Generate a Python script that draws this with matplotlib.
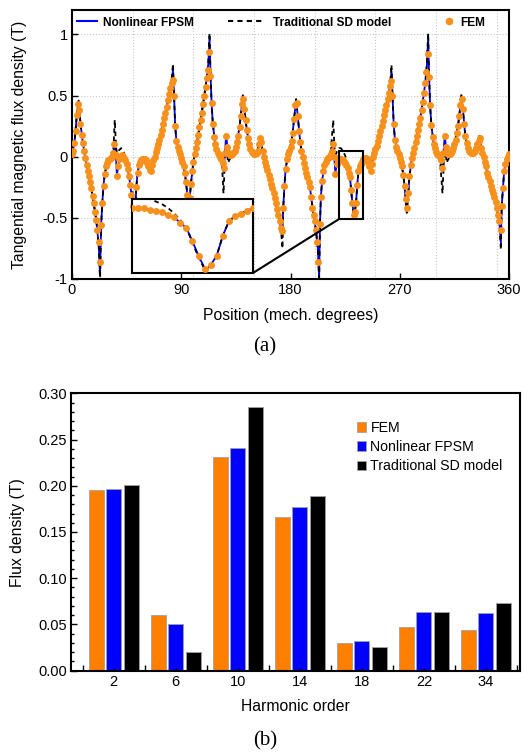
import numpy as np
import matplotlib.pyplot as plt
from matplotlib.patches import Rectangle, ConnectionPatch
from matplotlib.lines import Line2D

plt.rcParams['font.family'] = ['Liberation Sans', 'DejaVu Sans']
plt.rcParams['axes.unicode_minus'] = False

# (a) tangential flux density, FEM samples every degree
fem_pos = np.arange(0, 361)
fem_b = [0.02, 0.05, 0.11, 0.21, 0.34, 0.43, 0.38, 0.27, 0.18, 0.11,
         0.05, -0.01, -0.07, -0.12, -0.16, -0.21, -0.26, -0.32, -0.38, -0.45,
         -0.52, -0.60, -0.70, -0.86, -0.56, -0.38, -0.24, -0.14, -0.08, -0.05,
         -0.03, -0.02, -0.01, 0.00, 0.03, 0.10, 0.01, -0.16, -0.08, -0.02,
         0.00, 0.01, 0.00, -0.01, -0.03, -0.06, -0.10, -0.16, -0.23, -0.31,
         -0.40, -0.47, -0.42, -0.25, -0.13, -0.07, -0.04, -0.03, -0.02, -0.02,
         -0.02, -0.03, -0.05, -0.08, -0.11, -0.12, -0.07, -0.03, 0.00, 0.04,
         0.07, 0.10, 0.14, 0.18, 0.22, 0.27, 0.32, 0.36, 0.41, 0.46,
         0.51, 0.56, 0.60, 0.63, 0.50, 0.25, 0.13, 0.08, 0.05, 0.02,
         -0.01, -0.04, -0.08, -0.13, -0.21, -0.31, -0.43, -0.34, -0.22, -0.12,
         -0.04, 0.02, 0.07, 0.12, 0.18, 0.24, 0.30, 0.36, 0.43, 0.50,
         0.57, 0.64, 0.71, 0.86, 0.66, 0.44, 0.27, 0.16, 0.10, 0.06,
         0.03, 0.01, 0.00, -0.02, -0.05, -0.09, 0.03, 0.17, 0.08, 0.03,
         0.01, 0.01, 0.02, 0.03, 0.05, 0.08, 0.12, 0.17, 0.24, 0.33,
         0.43, 0.47, 0.39, 0.30, 0.22, 0.15, 0.10, 0.06, 0.04, 0.03,
         0.02, 0.02, 0.03, 0.05, 0.10, 0.15, 0.12, 0.05, 0.00, -0.04,
         -0.08, -0.11, -0.15, -0.18, -0.22, -0.26, -0.30, -0.34, -0.38, -0.43,
         -0.48, -0.53, -0.58, -0.61, -0.42, -0.24, -0.10, -0.02, 0.02, 0.05,
         0.08, 0.13, 0.19, 0.31, 0.42, 0.44, 0.33, 0.21, 0.12, 0.05,
         0.00, -0.05, -0.09, -0.13, -0.17, -0.21, -0.25, -0.33, -0.42, -0.48,
         -0.53, -0.60, -0.70, -0.86, -0.55, -0.33, -0.20, -0.12, -0.07, -0.04,
         -0.02, -0.01, 0.00, 0.02, 0.05, 0.10, 0.00, -0.14, -0.06, -0.01,
         -0.02, -0.02, -0.02, -0.03, -0.04, -0.05, -0.07, -0.09, -0.13, -0.17,
         -0.27, -0.38, -0.48, -0.45, -0.38, -0.23, -0.12, -0.08, -0.06, -0.04,
         -0.02, -0.01, -0.01, -0.02, -0.04, -0.08, -0.12, -0.06, 0.00, 0.03,
         0.06, 0.09, 0.13, 0.17, 0.21, 0.25, 0.29, 0.34, 0.38, 0.42,
         0.47, 0.52, 0.58, 0.62, 0.50, 0.27, 0.14, 0.08, 0.05, 0.02,
         -0.01, -0.04, -0.08, -0.15, -0.24, -0.35, -0.42, -0.30, -0.16, -0.07,
         -0.01, 0.03, 0.07, 0.12, 0.17, 0.22, 0.27, 0.32, 0.38, 0.45,
         0.52, 0.60, 0.69, 0.84, 0.65, 0.42, 0.26, 0.16, 0.10, 0.07,
         0.04, 0.02, 0.01, 0.00, -0.03, -0.09, 0.03, 0.17, 0.08, 0.04,
         0.02, 0.02, 0.03, 0.05, 0.07, 0.10, 0.14, 0.19, 0.25, 0.33,
         0.42, 0.47, 0.39, 0.27, 0.17, 0.11, 0.07, 0.05, 0.04, 0.03,
         0.03, 0.04, 0.05, 0.07, 0.10, 0.13, 0.15, 0.07, 0.03, 0.00,
         -0.04, -0.08, -0.13, -0.17, -0.20, -0.24, -0.27, -0.30, -0.33, -0.37,
         -0.42, -0.48, -0.53, -0.60, -0.40, -0.26, -0.12, -0.06, -0.02, 0.00,
         0.02]

# nonlinear FPSM curve (read points)
fpsm_pos = [0, 2, 4, 5.4, 7, 9, 11, 14, 17, 20, 22, 23.1, 24, 25, 26, 27, 29, 32, 34, 35.2,
            36.2, 37, 38, 40, 42, 44, 46, 48, 50, 51.4, 52.3, 53, 54, 56, 60, 63, 65, 66, 68, 72,
            76, 80, 82, 83.2, 84, 85, 86, 88, 91, 93, 95, 96.2, 97, 98, 100, 104, 108, 111, 112.3, 113.3,
            114.2, 115, 116, 118, 120, 122, 123, 124.8, 126, 127, 128, 130, 132, 135, 138, 140, 140.8, 142, 144, 146,
            149, 152, 154, 155.2, 157, 160, 165, 170, 172, 173.2, 174, 175, 176, 178, 181, 183, 184.6, 186, 188, 190,
            193, 196, 199, 201, 202.5, 203.6, 204.3, 205, 206, 208, 211, 213, 215.1, 216, 217, 218, 219, 220, 221, 222,
            223, 224, 225, 226, 227, 228, 229, 230, 231, 232.2, 233, 234, 235, 236, 237, 238, 239, 240, 242, 244,
            246, 247, 248, 252, 256, 260, 262, 263.2, 264, 265, 266, 268, 271, 273, 275, 275.8, 277, 278, 280, 284,
            288, 291, 292.3, 293.4, 294.2, 295, 296, 298, 300, 303, 305, 306, 307.1, 308, 310, 312, 315, 318, 320, 320.8,
            322, 324, 326, 330, 333, 335.5, 337, 339, 342, 346, 350, 352, 353.3, 354, 355, 356, 358, 360]
fpsm_b = [0.02, 0.11, 0.34, 0.46, 0.27, 0.11, -0.01, -0.16, -0.32, -0.52, -0.72, -0.97, -0.56, -0.37, -0.23, -0.14, -0.05, -0.01, 0.03, 0.13,
          0.00, -0.15, -0.08, 0.00, 0.00, -0.03, -0.10, -0.23, -0.40, -0.49, -0.40, -0.25, -0.13, -0.04, -0.02, -0.08, -0.12, -0.07, 0.00, 0.14,
          0.32, 0.51, 0.61, 0.71, 0.52, 0.25, 0.13, 0.05, -0.04, -0.13, -0.31, -0.45, -0.34, -0.22, -0.04, 0.18, 0.43, 0.64, 0.76, 0.97,
          0.64, 0.44, 0.27, 0.10, 0.03, 0.00, -0.02, -0.12, 0.03, 0.18, 0.08, 0.01, 0.02, 0.08, 0.24, 0.43, 0.50, 0.39, 0.22, 0.10,
          0.03, 0.03, 0.10, 0.16, 0.05, -0.08, -0.26, -0.48, -0.58, -0.66, -0.42, -0.24, -0.10, 0.02, 0.13, 0.31, 0.47, 0.33, 0.12, 0.00,
          -0.13, -0.25, -0.48, -0.60, -0.75, -0.97, -0.55, -0.33, -0.20, -0.07, -0.01, 0.02, 0.13, 0.00, -0.14, -0.06, -0.01, -0.02, -0.02, -0.02,
          -0.03, -0.04, -0.05, -0.07, -0.09, -0.13, -0.17, -0.27, -0.38, -0.49, -0.45, -0.38, -0.23, -0.12, -0.08, -0.06, -0.04, -0.02, -0.01, -0.04,
          -0.12, -0.06, 0.00, 0.13, 0.29, 0.47, 0.58, 0.70, 0.50, 0.27, 0.14, 0.05, -0.04, -0.15, -0.35, -0.45, -0.30, -0.16, -0.01, 0.17,
          0.38, 0.60, 0.74, 0.97, 0.65, 0.42, 0.26, 0.10, 0.04, 0.00, -0.12, 0.03, 0.18, 0.08, 0.02, 0.03, 0.10, 0.25, 0.42, 0.50,
          0.39, 0.17, 0.07, 0.03, 0.07, 0.16, 0.07, 0.00, -0.13, -0.27, -0.42, -0.53, -0.70, -0.40, -0.26, -0.12, -0.02, 0.02]

# traditional SD model curve (read points)
sd_pos = [0, 2, 4, 5.4, 7, 9, 11, 14, 17, 20, 22, 23.1, 24, 25, 26, 27, 29, 32, 34, 35.2,
          36.3, 37, 38.5, 40.5, 42.5, 44, 46, 47, 48, 50, 51.4, 52.3, 53, 54, 56, 60, 63, 65, 66, 68,
          72, 76, 80, 82, 83.2, 84, 85, 86, 88, 91, 93, 95, 96.2, 97, 98, 100, 104, 108, 111, 112.3,
          113.3, 114.2, 115, 116, 118, 120, 122, 123.5, 124.8, 126, 127.2, 128.5, 130, 132, 135, 138, 140, 140.8, 142, 144,
          146, 149, 152, 154, 155.2, 157, 160, 165, 170, 172, 173.4, 174, 175, 176, 178, 181, 183, 184.6, 186, 188,
          190, 193, 196, 199, 201, 202.5, 203.6, 204.3, 205, 206, 208, 211, 213, 215.2, 216.3, 217.3, 218.5, 220, 221.5, 223,
          224, 225, 226, 227, 228, 229, 230, 231, 232.2, 233, 234, 235, 236, 237, 238, 239, 240, 242, 244, 246,
          247, 248, 252, 256, 260, 262, 263.2, 264, 265, 266, 268, 271, 273, 275, 275.8, 277, 278, 280, 284, 288,
          291, 292.3, 293.4, 294.2, 295, 296, 298, 300, 303, 305.2, 306.4, 307.3, 308.6, 310, 312, 315, 318, 320, 320.8, 322,
          324, 326, 330, 333, 335.5, 337, 339, 342, 346, 350, 352, 353.3, 354, 355, 356, 358, 360]
sd_b = [0.02, 0.11, 0.34, 0.47, 0.27, 0.11, -0.01, -0.16, -0.32, -0.52, -0.72, -1.02, -0.56, -0.37, -0.23, -0.14, -0.05, -0.01, 0.03, 0.30,
        0.08, 0.03, 0.05, 0.07, 0.04, -0.01, -0.05, -0.09, -0.15, -0.30, -0.49, -0.40, -0.25, -0.13, -0.04, -0.02, -0.08, -0.12, -0.07, 0.00,
        0.14, 0.32, 0.51, 0.62, 0.76, 0.52, 0.25, 0.13, 0.05, -0.04, -0.13, -0.31, -0.46, -0.34, -0.22, -0.04, 0.18, 0.43, 0.64, 0.78,
        1.01, 0.64, 0.44, 0.27, 0.10, 0.03, 0.00, -0.05, -0.30, -0.02, 0.10, -0.05, -0.02, 0.01, 0.08, 0.24, 0.43, 0.51, 0.39, 0.22,
        0.10, 0.03, 0.03, 0.10, 0.17, 0.05, -0.08, -0.26, -0.48, -0.58, -0.75, -0.42, -0.24, -0.10, 0.02, 0.13, 0.31, 0.47, 0.33, 0.12,
        0.00, -0.13, -0.25, -0.48, -0.60, -0.76, -1.02, -0.55, -0.33, -0.20, -0.07, -0.01, 0.02, 0.30, 0.06, 0.02, 0.05, 0.07, 0.07, 0.05,
        0.03, 0.01, -0.02, -0.06, -0.11, -0.17, -0.28, -0.39, -0.50, -0.45, -0.38, -0.23, -0.12, -0.08, -0.06, -0.04, -0.02, -0.01, -0.04, -0.12,
        -0.06, 0.00, 0.13, 0.29, 0.47, 0.58, 0.75, 0.50, 0.27, 0.14, 0.05, -0.04, -0.15, -0.35, -0.46, -0.30, -0.16, -0.01, 0.17, 0.38,
        0.60, 0.76, 1.01, 0.65, 0.42, 0.26, 0.10, 0.04, 0.00, -0.30, -0.02, 0.10, -0.05, -0.02, 0.01, 0.10, 0.25, 0.42, 0.51, 0.39,
        0.17, 0.07, 0.03, 0.07, 0.17, 0.07, 0.00, -0.13, -0.27, -0.42, -0.53, -0.76, -0.40, -0.26, -0.12, -0.02, 0.02]

# (b) harmonic amplitudes
harm_order = ['2', '6', '10', '14', '18', '22', '34']
harm_fem = [0.195, 0.060, 0.231, 0.166, 0.030, 0.047, 0.044]
harm_fpsm = [0.196, 0.051, 0.241, 0.177, 0.032, 0.064, 0.062]
harm_sd = [0.201, 0.020, 0.285, 0.189, 0.026, 0.064, 0.073]

orange = '#FF8000'
dot_orange = '#F8901C'
blue = '#0000FF'
zoom_x = (220, 240)
zoom_y = (-0.51, 0.05)

fig = plt.figure(figsize=(5.29, 7.56), dpi=100)

# ---------------- (a) ----------------
ax = fig.add_axes([0.1361, 0.6310, 0.8261, 0.3558])
for gx in range(50, 360, 50):
    ax.axvline(gx, color='#c8c8c8', ls=':', lw=0.8, zorder=0)
for gy in [-0.5, 0, 0.5, 1]:
    ax.axhline(gy, color='#c8c8c8', ls=':', lw=0.8, zorder=0)


def draw_wave(a, ms):
    a.plot(fpsm_pos, fpsm_b, color=blue, lw=1.3, zorder=2)
    a.plot(sd_pos, sd_b, color='black', lw=1.3, ls=(0, (2.5, 2)), zorder=3)
    a.plot(fem_pos, fem_b, 'o', color=dot_orange, ms=ms, mec='none', zorder=4)


draw_wave(ax, 5.0)
ax.set_xlim(0, 360)
ax.set_ylim(-1, 1.2)
ax.set_xticks([0, 90, 180, 270, 360])
ax.set_yticks([-1, -0.5, 0, 0.5, 1])
ax.set_yticklabels(['-1', '-0.5', '0', '0.5', '1'])
ax.tick_params(direction='in', length=4, width=1, labelsize=10.5, pad=3)
for s in ax.spines.values():
    s.set_linewidth(1.5)

ax.add_patch(Rectangle((zoom_x[0], zoom_y[0]), zoom_x[1] - zoom_x[0], zoom_y[1] - zoom_y[0],
                       fill=False, ec='black', lw=1.5, zorder=6))

bold = dict(weight='bold', size=8.6)
h1 = Line2D([], [], color=blue, lw=1.5)
h2 = Line2D([], [], color='black', lw=1.5, ls=(0, (2.5, 2)))
h3 = Line2D([], [], ls='none', marker='o', color=dot_orange, ms=5.5, mec='none')
leg1 = ax.legend([h1], ['Nonlinear FPSM'], loc='center left', bbox_to_anchor=(0.011, 0.953),
                 frameon=False, borderpad=0, borderaxespad=0, handlelength=1.67,
                 handletextpad=0.5, prop=bold)
ax.add_artist(leg1)
leg2 = ax.legend([h2], ['Traditional SD model'], loc='center left', bbox_to_anchor=(0.357, 0.953),
                 frameon=False, borderpad=0, borderaxespad=0, handlelength=3.1,
                 handletextpad=0.65, prop=bold)
ax.add_artist(leg2)
ax.legend([h3], ['FEM'], loc='center left', bbox_to_anchor=(0.849, 0.953),
          frameon=False, borderpad=0, borderaxespad=0, handlelength=1.0,
          handletextpad=0.42, prop=bold)

# inset
axins = fig.add_axes([0.2495, 0.6389, 0.2287, 0.0979])
draw_wave(axins, 5.0)
axins.set_xlim(*zoom_x)
axins.set_ylim(*zoom_y)
axins.set_xticks([])
axins.set_yticks([])
for s in axins.spines.values():
    s.set_linewidth(1.5)
con = ConnectionPatch(xyA=(1, 0), coordsA=axins.transAxes,
                      xyB=(zoom_x[0], zoom_y[0]), coordsB=ax.transData,
                      color='black', lw=1.5)
fig.add_artist(con)

fig.text(0.549, 0.583, 'Position (mech. degrees)', ha='center', va='center', fontsize=11.3)
fig.text(0.036, 0.809, 'Tangential magnetic flux density (T)', ha='center', va='center',
         rotation=90, fontsize=11.3)
fig.text(0.501, 0.541, '(a)', ha='center', va='center', fontsize=15, family='Liberation Serif')

# ---------------- (b) ----------------
ax2 = fig.add_axes([0.1342, 0.1128, 0.8488, 0.3670])
idx = np.arange(len(harm_order))
w = 0.245
off = 0.285
ax2.bar(idx - off, harm_fem, w, color=orange, edgecolor='#a0a0a0', lw=0.6, label='FEM')
ax2.bar(idx, harm_fpsm, w, color=blue, edgecolor='#a0a0a0', lw=0.6, label='Nonlinear FPSM')
ax2.bar(idx + off, harm_sd, w, color='black', edgecolor='#a0a0a0', lw=0.6, label='Traditional SD model')
ax2.set_xlim(-0.69, 6.55)
ax2.set_ylim(0, 0.30)
ax2.set_xticks(idx)
ax2.set_xticklabels(harm_order)
ax2.set_xticks(np.arange(-0.5, 7, 1), minor=True)
ax2.set_yticks(np.arange(0, 0.31, 0.05))
ax2.set_yticklabels(['%.2f' % v for v in np.arange(0, 0.31, 0.05)])
ax2.set_yticks(np.arange(0, 0.301, 0.01), minor=True)
ax2.tick_params(which='both', direction='in', width=1, labelsize=10.5, pad=3)
ax2.tick_params(which='major', length=4)
ax2.tick_params(which='minor', length=2.5)
ax2.tick_params(axis='x', which='major', length=2)
ax2.tick_params(axis='x', which='minor', length=4)
for s in ax2.spines.values():
    s.set_linewidth(1.5)
ax2.legend(loc='upper left', bbox_to_anchor=(0.636, 0.90), frameon=False, borderpad=0,
           borderaxespad=0, handlelength=0.7, handleheight=0.7, handletextpad=0.28,
           labelspacing=0.37, fontsize=10.2)

fig.text(0.5586, 0.066, 'Harmonic order', ha='center', va='center', fontsize=11.3)
fig.text(0.034, 0.296, 'Flux density (T)', ha='center', va='center', rotation=90, fontsize=11.3)
fig.text(0.501, 0.020, '(b)', ha='center', va='center', fontsize=15, family='Liberation Serif')

fig.savefig('out.png', dpi=100)
